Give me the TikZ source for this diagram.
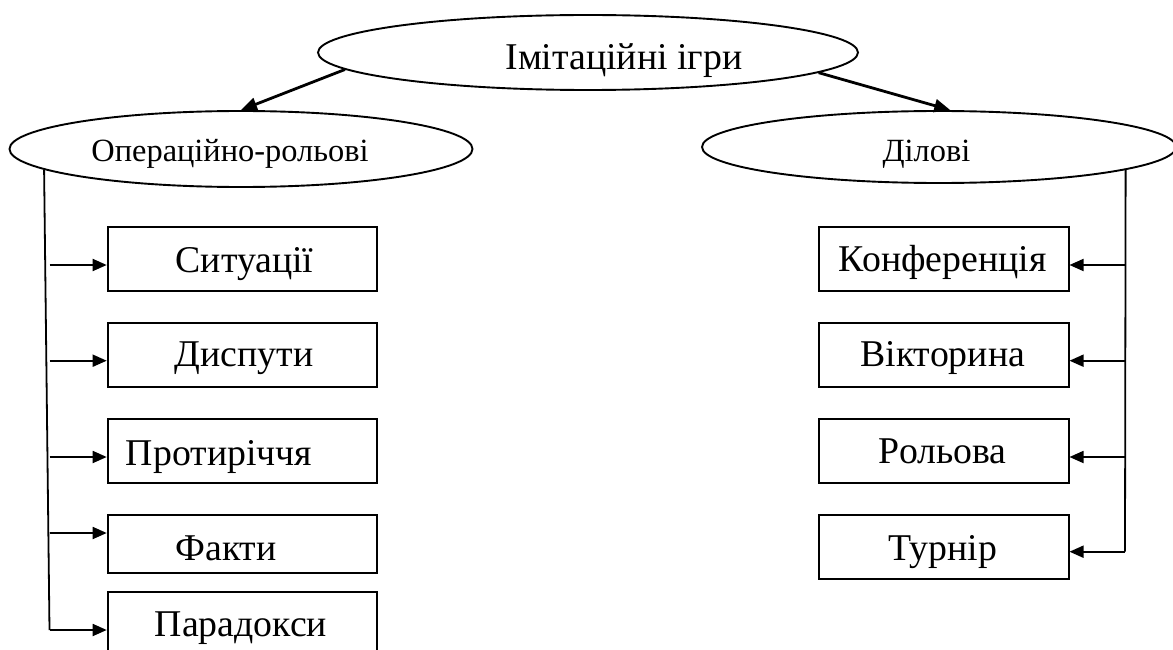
\documentclass[tikz,border=0pt]{standalone}
\usepackage{fontspec}
\setmainfont{Liberation Serif}
\usetikzlibrary{arrows.meta,shapes.geometric}
\begin{document}
\begin{tikzpicture}[x=1pt,y=-1pt,
  oval/.style={draw,ellipse,line width=1.9pt,inner sep=0pt},
  item/.style={draw,rectangle,line width=1.8pt,inner sep=0pt,anchor=north west},
  trunk/.style={line width=1.8pt},
  branch/.style={line width=1.8pt,-{Triangle[length=14pt,width=12pt]}},
  main/.style={line width=2.8pt,-{Triangle[length=16pt,width=13pt]}},
  big/.style={font=\fontsize{37.8}{40}\selectfont,inner sep=0pt,anchor=base},
  mid/.style={font=\fontsize{32.4}{36}\selectfont,inner sep=0pt,anchor=base},
]
\useasboundingbox (0,0) rectangle (1173,650);
\clip (0,0) rectangle (1173,650);

% ellipses
\node[oval,minimum width=540pt,minimum height=75pt] (top) at (588,52.5) {};
\node[oval,minimum width=463pt,minimum height=76pt] (lft) at (241,149) {};
\node[oval,minimum width=474pt,minimum height=72pt] (rgt) at (939,147) {};
\node[big] (toptext) at (624,70) {Імітаційні ігри};
\node[mid] (lfttext) at (230,161) {Операційно-рольові};
\node[mid] (rgttext) at (926.5,161) {Ділові};

% main arrows
\draw[main] (top.184.66) -- (lft.north);
\draw[main] (top.355.15) -- (rgt.73);

% left column of boxes
\node[item,minimum width=269pt,minimum height=64pt] (b1) at (106.7,226) {};
\node[item,minimum width=269pt,minimum height=64pt] (b2) at (106.7,322) {};
\node[item,minimum width=269pt,minimum height=64pt] (b3) at (106.7,418) {};
\node[item,minimum width=269pt,minimum height=58pt] (b4) at (106.7,514) {};
\node[item,minimum width=269pt,minimum height=64pt] (b5) at (106.7,591) {};
\node[big] (t1) at (244.5,272) {Ситуації};
\node[big] (t2) at (244,366.7) {Диспути};
\node[big] (t3) at (219,465) {Протиріччя};
\node[big] (t4) at (226,560) {Факти};
\node[big] (t5) at (241,636.7) {Парадокси};

% right column of boxes
\node[item,minimum width=250pt,minimum height=64pt] (c1) at (817.7,226) {};
\node[item,minimum width=250pt,minimum height=64pt] (c2) at (817.7,322) {};
\node[item,minimum width=250pt,minimum height=64pt] (c3) at (817.7,418) {};
\node[item,minimum width=250pt,minimum height=64pt] (c4) at (817.7,514) {};
\node[big] (s1) at (942.7,271.7) {Конференція};
\node[big] (s2) at (942.7,366.7) {Вікторина};
\node[big] (s3) at (942.7,463) {Рольова};
\node[big] (s4) at (942.7,560) {Турнір};

% left trunk and branches
\coordinate (l1) at (49.5,265);
\coordinate (l2) at (49.5,360.7);
\coordinate (l3) at (49.5,457);
\coordinate (l4) at (49.5,533);
\coordinate (l5) at (49.5,630);
\draw[trunk] (lft.186.24) -- (l5);
\foreach \k in {1,...,5}{
  \draw[branch] (l\k) -- (l\k -| b\k.west);
}

% right trunk and branches
\coordinate (r1) at (1125,265);
\coordinate (r2) at (1125,360.7);
\coordinate (r3) at (1125,457);
\coordinate (r4) at (1125,551.7);
\draw[trunk] (rgt.353.16) -- (r4);
\foreach \k in {1,...,4}{
  \draw[branch] (r\k) -- (r\k -| c\k.east);
}
\end{tikzpicture}
\end{document}
